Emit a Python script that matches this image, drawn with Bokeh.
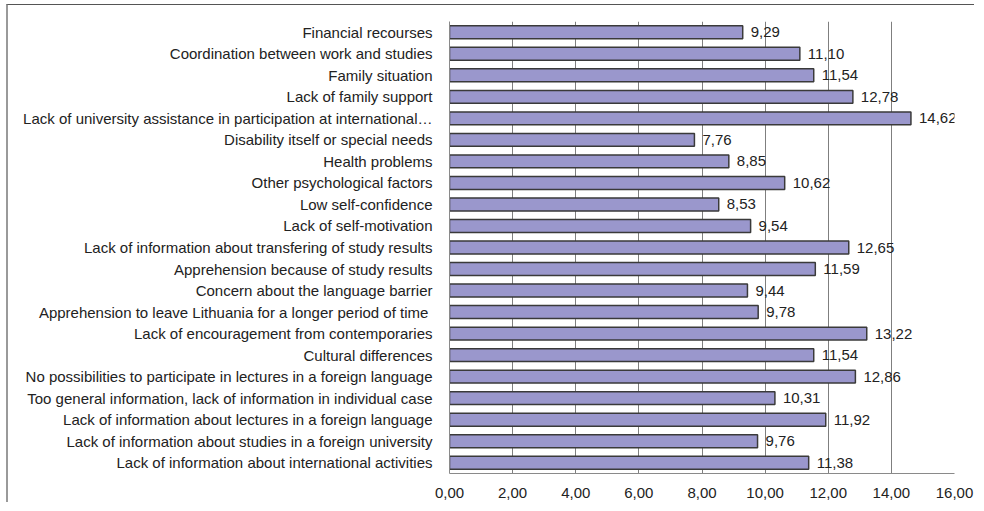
from bokeh.plotting import figure
from bokeh.models import FactorRange, Range1d, FixedTicker, ColumnDataSource
from bokeh.core.properties import value
from bokeh.embed import file_html
from bokeh.resources import INLINE

categories = [
    "Financial recourses",
    "Coordination between work and studies",
    "Family situation",
    "Lack of family support",
    "Lack of university assistance in participation at international…",
    "Disability itself or special needs",
    "Health problems",
    "Other psychological factors",
    "Low self-confidence",
    "Lack of self-motivation",
    "Lack of information about transfering of study results",
    "Apprehension because of study results",
    "Concern about the language barrier",
    "Apprehension to  leave Lithuania for a longer period of time",
    "Lack of encouragement from contemporaries",
    "Cultural differences",
    "No possibilities to participate in lectures in a foreign language",
    "Too general information, lack of information in individual case",
    "Lack of information about lectures in a foreign language",
    "Lack of information about studies in a foreign university",
    "Lack of information about international activities",
]
values = [9.29, 11.10, 11.54, 12.78, 14.62, 7.76, 8.85, 10.62, 8.53, 9.54,
          12.65, 11.59, 9.44, 9.78, 13.22, 11.54, 12.86, 10.31, 11.92, 9.76, 11.38]
tick_values = [0, 2, 4, 6, 8, 10, 12, 14, 16]
tick_labels = ["0,00", "2,00", "4,00", "6,00", "8,00", "10,00", "12,00", "14,00", "16,00"]

value_labels = [f"{v:.2f}".replace(".", ",") for v in values]
source = ColumnDataSource(dict(cat=categories, val=values, lab=value_labels))

FONT = "Liberation Sans"
TXT = "#222222"

p = figure(
    width=968, height=498,
    y_range=FactorRange(factors=list(reversed(categories))),
    x_range=Range1d(0, 16),
    output_backend="svg", toolbar_location=None,
    min_border_left=441, min_border_right=22, min_border_top=16, min_border_bottom=30,
)
p.styles = {
    "margin-left": "6px", "margin-top": "4px",
    "border-left": "2px solid #9a9a9a", "border-top": "1px solid #555555",
}
p.outline_line_color = None

p.hbar(y="cat", right="val", left=0, height=0.6, source=source,
       fill_color="#9A97CC", line_color="#3a3a3a", line_width=1.5)

p.text(x="val", y="cat", text="lab", source=source, x_offset=8,
       text_baseline="middle", text_align="left",
       text_font=value(FONT), text_font_size="15px", text_color=TXT)

p.xgrid.ticker = FixedTicker(ticks=tick_values)
p.xgrid.grid_line_color = "#7f7f7f"
p.ygrid.grid_line_color = None

xa = p.xaxis[0]
xa.ticker = FixedTicker(ticks=tick_values)
xa.major_label_overrides = {t: l for t, l in zip(tick_values, tick_labels)}
xa.major_tick_out = 0
xa.major_tick_in = 0
xa.minor_tick_out = 0
xa.minor_tick_in = 0
xa.axis_line_color = "#8a8a8a"
xa.major_label_standoff = 14
xa.major_label_text_font = FONT
xa.major_label_text_font_size = "15px"
xa.major_label_text_color = TXT

ya = p.yaxis[0]
ya.major_tick_out = 0
ya.major_tick_in = 0
ya.axis_line_color = "#8a8a8a"
ya.major_label_standoff = 17
ya.major_label_text_font = FONT
ya.major_label_text_font_size = "15px"
ya.major_label_text_color = TXT

open("out.html", "w").write(file_html(p, INLINE))
